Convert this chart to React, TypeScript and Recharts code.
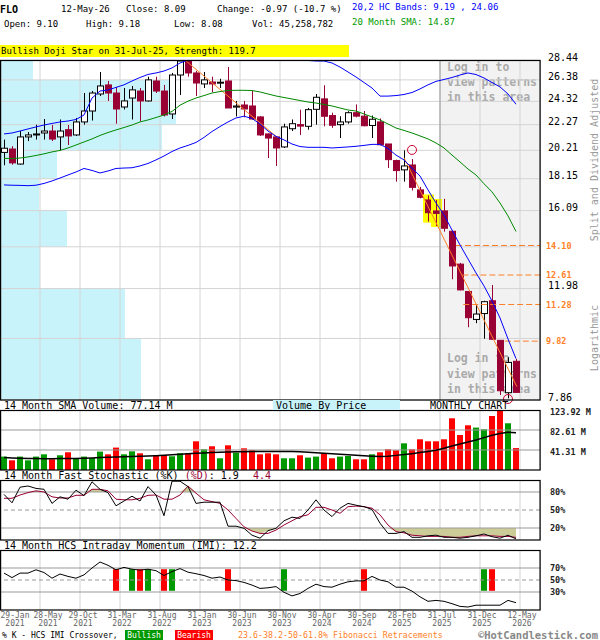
import React from "react";
import {
  ComposedChart,
  Bar,
  Line,
  Area,
  XAxis,
  YAxis,
  CartesianGrid,
  Cell,
  ReferenceArea,
  ReferenceLine,
  ReferenceDot,
} from "recharts";

const MONO = "'DejaVu Sans Mono', monospace";
const MAROON = "#990033";
const ORANGE = "#ff7f27";
const GRID = "#d4d4d4";

// FLO monthly candles, Jan-2021 .. May-2026 (split & dividend adjusted)
const opens = [
  20.05, 20.31, 19.19, 21.26, 21.45, 21.58, 21.74, 21.26, 21.85, 21.42,
  22.5, 23.45, 25.01, 25.88, 25.1, 23.81, 24.63, 25.29, 24.36, 26.27,
  25.29, 23.19, 26.87, 28.33, 27.08, 25.98, 26.17, 26.1, 26.27, 23.8,
  23.99, 23.9, 22.93, 21.5, 21.26, 20.47, 21.93, 22.27, 22.13, 23.6,
  24.55, 23.05, 22.27, 22.5, 23.3, 23.0, 22.2, 22.5, 20.7, 19.44,
  18.77, 19.12, 17.4, 16.75, 16.07, 16.07, 14.88, 13.14, 11.85, 10.66,
  10.9, 11.44, 9.85, 8.08, 9.1,
];
const highs = [
  21.05, 20.53, 21.74, 21.66, 22.27, 22.75, 22.24, 22.71, 22.24, 22.84,
  25.1, 25.29, 27.18, 26.27, 25.68, 25.58, 25.78, 25.58, 26.7, 26.7,
  25.88, 27.08, 28.44, 28.44, 27.29, 27.18, 26.7, 26.49, 27.7, 24.36,
  24.36, 25.29, 23.0, 21.55, 21.3, 22.35, 22.71, 23.57, 23.72, 25.01,
  25.85, 23.3, 22.99, 23.43, 24.04, 23.45, 23.05, 22.8, 20.7, 19.51,
  20.21, 19.55, 17.6, 17.04, 16.75, 16.82, 14.9, 13.2, 11.85, 11.3,
  11.44, 12.14, 9.85, 9.24, 9.18,
];
const lows = [
  19.1, 19.14, 19.14, 20.93, 21.05, 21.05, 20.93, 20.21, 20.62, 21.34,
  22.27, 22.62, 24.82, 24.36, 22.35, 23.59, 22.71, 22.55, 24.3, 25.1,
  22.97, 22.75, 24.91, 26.7, 24.82, 25.58, 25.2, 25.58, 23.72, 22.97,
  22.9, 22.71, 21.34, 19.63, 19.05, 20.39, 21.74, 21.42, 21.85, 22.27,
  22.13, 22.0, 21.17, 22.35, 22.9, 22.13, 21.17, 20.6, 18.9, 17.95,
  17.95, 17.36, 16.85, 15.43, 15.18, 14.86, 12.41, 11.9, 10.35, 10.51,
  9.91, 9.87, 8.01, 7.91, 8.08,
];
const closes = [
  20.37, 19.27, 21.26, 21.42, 21.5, 21.74, 21.09, 21.74, 21.34, 22.5,
  23.45, 25.1, 25.78, 25.1, 23.63, 24.36, 25.4, 24.36, 26.38, 25.29,
  23.1, 26.87, 28.33, 27.08, 26.07, 26.38, 25.98, 26.15, 23.72, 23.9,
  23.63, 22.75, 21.42, 21.17, 20.39, 22.08, 22.35, 22.15, 23.57, 24.7,
  22.99, 22.22, 22.5, 23.3, 23.0, 22.18, 22.73, 20.64, 19.51, 18.72,
  19.05, 17.57, 16.92, 15.96, 15.92, 15.05, 13.05, 11.92, 10.73, 10.88,
  11.4, 9.89, 8.14, 9.06, 8.09,
];

// 20,2 bands and 20 month SMA
const bandUpper = [
  21.5, 21.58, 21.74, 21.91, 22.08, 22.24, 22.37, 22.5, 22.58, 22.71,
  23.1, 24.63, 25.29, 25.39, 25.64, 25.89, 26.27, 26.62, 26.93, 27.08,
  27.28, 27.6, 28.12, 28.44, 28.66, 28.76, 28.66, 28.66, 28.6, 28.66,
  28.71, 28.71, 28.66, 28.6, 28.55, 28.49, 28.44, 28.44, 28.39, 28.33,
  28.33, 28.12, 27.69, 27.18, 26.67, 26.12, 25.58, 24.81, 24.81, 24.86,
  24.96, 25.15, 25.49, 25.89, 26.23, 26.42, 26.62, 26.87, 27.08, 26.92,
  26.57, 26.12, 25.69, 25.01, 24.06,
];
const bandLower = [
  17.73, 17.71, 17.7, 17.68, 17.71, 17.83, 18.0, 18.2, 18.41, 18.62,
  18.87, 18.73, 18.55, 18.69, 18.87, 18.9, 18.92, 19.05, 19.23, 19.49,
  19.78, 20.12, 20.39, 20.59, 20.82, 21.22, 21.7, 22.11, 22.5, 22.84,
  22.99, 22.8, 22.33, 21.74, 21.3, 21.02, 20.7, 20.5, 20.44, 20.44,
  20.44, 20.39, 20.43, 20.47, 20.52, 20.59, 20.67, 20.67, 20.35, 19.85,
  19.49, 18.9, 18.34, 17.4, 16.56, 15.83, 14.95, 14.13, 13.4, 12.71,
  12.1, 11.43, 10.72, 9.9, 9.19,
];
const sma20 = [
  19.6, 19.6, 19.63, 19.71, 19.82, 19.94, 20.09, 20.2, 20.39, 20.62,
  20.86, 21.1, 21.38, 21.62, 21.83, 22.03, 22.24, 22.5, 22.67, 22.88,
  23.1, 23.41, 23.97, 24.34, 24.63, 24.86, 25.1, 25.24, 25.34, 25.36,
  25.36, 25.34, 25.2, 25.01, 24.82, 24.68, 24.54, 24.4, 24.26, 24.17,
  24.03, 23.9, 23.72, 23.54, 23.45, 23.19, 22.93, 22.67, 22.33, 21.99,
  21.79, 21.58, 21.34, 21.1, 20.78, 20.39, 19.85, 19.34, 18.83, 18.41,
  17.81, 17.27, 16.56, 15.77, 14.87,
];

// monthly volume (millions) and its 14 month SMA
const volumes = [
  27.7, 20.0, 27.7, 20.0, 27.7, 32.4, 22.1, 30.4, 36.6, 24.8,
  27.7, 24.8, 38.0, 32.4, 46.3, 32.4, 38.6, 34.5, 22.1, 31.0,
  31.0, 28.3, 34.5, 34.5, 59.3, 42.8, 49.0, 24.2, 51.0, 35.9,
  44.8, 40.7, 32.4, 34.5, 32.4, 24.2, 24.2, 30.4, 25.6, 27.7,
  34.5, 24.2, 27.7, 28.9, 22.1, 22.1, 32.4, 36.6, 42.8, 40.7,
  55.1, 42.8, 63.4, 59.3, 59.3, 63.4, 106.8, 72.3, 92.3, 87.6,
  84.1, 111.5, 124.5, 96.5, 45.26,
];
const volumeSma = [
  25.6, 25.0, 24.4, 23.8, 23.5, 23.4, 23.4, 23.5, 23.6, 24.0,
  24.5, 25.0, 25.6, 26.2, 26.9, 27.3, 27.7, 28.3, 28.9, 29.6,
  30.4, 31.4, 32.5, 33.5, 34.5, 35.3, 36.0, 36.6, 37.2, 37.6,
  37.9, 38.0, 38.0, 38.1, 38.0, 38.0, 38.0, 37.6, 36.5, 35.5,
  34.5, 33.5, 32.4, 31.3, 30.4, 29.3, 28.4, 27.7, 28.6, 30.2,
  31.8, 33.8, 35.9, 38.2, 40.7, 45.0, 49.6, 53.5, 57.8, 62.0,
  66.9, 71.8, 75.5, 78.0, 77.14,
];

// 14 month fast stochastic
const stochK = [
  76, 62, 88, 90, 86, 84.5, 61, 72, 68, 83,
  74, 97, 84.5, 79, 57, 65, 73, 65, 89, 75,
  40.5, 98, 98, 89, 61, 63, 63, 63, 23, 23,
  19.5, 8, 3, 15.5, 19.5, 32, 38, 36, 50, 67,
  50, 39, 53, 61, 58, 55.5, 51, 28, 11, 11,
  14, 4.5, 4.5, 7, 8, 4.5, 4.5, 3, 4.5, 7,
  10, 5.5, 3, 8, 1.9,
];
const stochD = [
  69.5, 69.5, 75, 79, 82, 80, 72, 70, 70, 74.5,
  74.5, 84.5, 84.5, 82, 68, 67, 67, 69.5, 74.5, 75,
  68, 68, 75, 90, 78, 67, 64, 61, 50, 36,
  22, 15, 11, 11, 16.5, 25, 32, 39, 42, 54.5,
  54.5, 50, 44.5, 55.5, 56.5, 55.5, 53, 42, 25, 14,
  12, 8, 7, 6, 6, 6, 4.5, 4.5, 6, 7,
  7, 7, 6, 6, 4.4,
];

// 14 month HCS intraday momentum
const imi = [
  61.5, 54, 61.5, 61.5, 67, 62.5, 53, 60, 56, 53,
  58.5, 70, 80, 74.5, 67, 71, 68, 66.5, 68, 65.5,
  57.5, 64, 69, 63, 60.5, 57.5, 53, 55, 50, 49,
  46, 41.5, 36, 37, 39, 29.5, 23.5, 27.5, 36, 43,
  39, 38, 43, 47, 48.5, 48.5, 56, 50, 47, 38,
  38, 31.5, 22, 14.5, 16, 14.5, 10.5, 6, 5, 8,
  8, 8, 8, 16, 12.2,
];
const crossMonths = [14, 16, 17, 18, 20, 21, 28, 35, 45, 60, 61];
const crossKinds = ["bear", "bull", "bear", "bull", "bear", "bull", "bear", "bull", "bear", "bull", "bear"];

// pattern marks
const patternMonths = [53, 54];
const fibLevels = [14.1, 12.61, 11.28, 9.82];
const fibStartMonth = [56.5, 57.3, 57.4, 62.6];

// volume by price, per price band (grid line to grid line), bottom to top
const priceGrid = [7.86, 9.92, 11.98, 14.03, 16.09, 18.15, 20.21, 22.27, 24.32, 26.38, 28.44];
const priceLabels = [7.86, 11.98, 16.09, 18.15, 20.21, 22.27, 24.32, 26.38, 28.44];
const vbpVolume = [282, 250, 80, 134, 78, 114, 324, 352, 352, 66];

// x axis
const tickMonths = [0, 4, 9, 14, 19, 24, 29, 34, 39, 44, 49, 54, 59, 64];
const tickDates = ["29-Jan", "28-May", "29-Oct", "31-Mar", "31-Aug", "31-Jan", "30-Jun", "30-Nov", "30-Apr", "30-Sep", "28-Feb", "31-Jul", "31-Dec", "12-May"];
const tickYears = ["2021", "2021", "2021", "2022", "2022", "2023", "2023", "2023", "2024", "2024", "2025", "2025", "2025", "2026"];
const tickNudge = [15, 8, 3, 2, 2, 2, 2, 2, 2, 2, 2, 2, 2, 2];

const gridTicks = tickMonths.map((m) => (m === 0 ? -0.5 : m + 0.5));
const X_DOMAIN: [number, number] = [-0.5, 67];
const P_DOMAIN: [number, number] = [7.86, 28.44];

const priceRows = opens.map((o, i) => ({
  i,
  open: o,
  high: highs[i],
  low: lows[i],
  close: closes[i],
  range: [lows[i], highs[i]],
  upper: bandUpper[i],
  lower: bandLower[i],
  sma: sma20[i],
  flag: patternMonths.includes(i),
}));

const vbpRows = vbpVolume.map((v, k) => ({ v, lo: priceGrid[k], hi: priceGrid[k + 1] }));

const volumeRows = volumes.map((v, i) => ({
  i,
  vol: v,
  vsma: volumeSma[i],
  up: closes[i] >= opens[i],
}));

const stochRows = stochK.map((k, i) => {
  const d = stochD[i];
  return {
    i,
    k,
    d,
    hi: [80, Math.max(80, Math.min(k, d))],
    lo: [Math.min(20, Math.max(k, d)), 20],
  };
});

const imiRows = imi.map((v, i) => {
  const c = crossMonths.indexOf(i);
  return { i, imi: v, cross: c >= 0 ? [32, 68] : null, kind: c >= 0 ? crossKinds[c] : null };
});

const Candle = (props: any) => {
  const { x, y, width, height, payload } = props;
  if (x == null || y == null || !payload) return null;
  const top = Math.min(y, y + height);
  const bot = Math.max(y, y + height);
  const lh = Math.log(payload.high);
  const ll = Math.log(payload.low);
  const py = (p: number) => (lh === ll ? top : top + ((lh - Math.log(p)) / (lh - ll)) * (bot - top));
  const up = payload.close >= payload.open;
  const color = up ? "#000" : MAROON;
  const cx = Math.round(x + width / 2) + 0.5;
  const bTop = py(Math.max(payload.open, payload.close));
  const bBot = py(Math.min(payload.open, payload.close));
  const bh = Math.max(1, bBot - bTop);
  return (
    <g>
      {payload.flag && (
        <rect x={cx - 5.5} y={top - 1} width={11} height={bot - top + 2} fill="#ffff00" />
      )}
      <line x1={cx} x2={cx} y1={top} y2={bot} stroke={color} strokeWidth={1} />
      <rect x={cx - 3} y={bTop} width={6} height={bh} fill={up ? "#fff" : color} stroke={color} strokeWidth={1} />
    </g>
  );
};

const PriceTick = (props: any) => {
  const { x, y, payload } = props;
  if (!priceLabels.includes(payload.value)) return <g />;
  return (
    <text x={x} y={y - 3} dominantBaseline="central" fontSize={10} fontFamily={MONO} fill="#000">
      {payload.value.toFixed(2)}
    </text>
  );
};

const makeSideTick = (fmt: (v: number) => string, dy: number) => (props: any) => {
  const { x, y, payload } = props;
  return (
    <text x={x + 2} y={y + dy} dominantBaseline="central" fontSize={8.5} fontWeight="bold" fontFamily={MONO} fill="#222">
      {fmt(payload.value)}
    </text>
  );
};

const DateTick = (props: any) => {
  const { x, y, payload } = props;
  const k = gridTicks.indexOf(payload.value);
  if (k < 0) return <g />;
  const tx = x + tickNudge[k];
  return (
    <g fontSize={8} fontFamily={MONO} fill="#666" textAnchor="middle">
      <text x={tx} y={y - 3} dominantBaseline="central">{tickDates[k]}</text>
      <text x={tx} y={y + 5.5} dominantBaseline="central">{tickYears[k]}</text>
    </g>
  );
};

const timeAxis = (
  <XAxis type="number" dataKey="i" domain={X_DOMAIN} ticks={gridTicks} allowDataOverflow hide />
);

const layer = (top: number, z: number): React.CSSProperties => ({ position: "absolute", left: 0, top, zIndex: z });
const M_MAIN = { top: 60, right: 0, bottom: 10, left: 0 };
const M_PANEL = { top: 10, right: 0, bottom: 10, left: 0 };

export default function App() {
  return (
    <div style={{ position: "absolute", left: 0, top: 0, width: 600, height: 640, background: "#fff", overflow: "hidden" }}>
      {/* volume by price (behind the candles) */}
      <div style={layer(0, 1)}>
        <ComposedChart width={600} height={410} data={vbpRows} margin={M_MAIN}>
          <XAxis type="number" dataKey="v" domain={[0, 1080]} allowDataOverflow hide />
          <YAxis orientation="right" width={60} scale="log" type="number" domain={P_DOMAIN} allowDataOverflow tick={false} axisLine={false} tickLine={false} />
          {vbpRows.map((r, k) => (
            <ReferenceArea key={k} x1={0} x2={r.v} y1={r.lo} y2={r.hi} fill="#c9f3fb" fillOpacity={1} stroke="none" />
          ))}
        </ComposedChart>
      </div>

      {/* zone where the site hides recent patterns */}
      <div style={layer(0, 2)}>
        <ComposedChart width={600} height={410} data={priceRows} margin={M_MAIN}>
          {timeAxis}
          <YAxis orientation="right" width={60} scale="log" type="number" domain={P_DOMAIN} allowDataOverflow tick={false} axisLine={false} tickLine={false} />
          <ReferenceArea x1={54.5} x2={67} y1={P_DOMAIN[0]} y2={P_DOMAIN[1]} fill="#f2f2f2" fillOpacity={1} stroke="none" />
        </ComposedChart>
      </div>

      <svg width={600} height={410} style={{ ...layer(0, 3), pointerEvents: "none" }}>
        {["Log in to", "view patterns", "in this area"].map((t, k) => (
          <text key={"a" + k} x={447} y={67 + 15 * k} dominantBaseline="central" fontSize={11.5} fontWeight="bold" fontFamily={MONO} fill="#aaaaaa">{t}</text>
        ))}
        {["Log in to", "view patterns", "in this area"].map((t, k) => (
          <text key={"b" + k} x={447} y={358 + 15.5 * k} dominantBaseline="central" fontSize={11.5} fontWeight="bold" fontFamily={MONO} fill="#aaaaaa">{t}</text>
        ))}
      </svg>

      {/* main price panel */}
      <div style={layer(0, 4)}>
        <ComposedChart width={600} height={410} data={priceRows} margin={M_MAIN}>
          <CartesianGrid stroke={GRID} />
          {timeAxis}
          <YAxis
            orientation="right"
            width={60}
            scale="log"
            type="number"
            domain={P_DOMAIN}
            allowDataOverflow
            ticks={priceGrid}
            interval={0}
            tick={<PriceTick />}
            axisLine={false}
            tickLine={false}
          />
          <ReferenceLine x={54.5} stroke="#999" />
          {fibLevels.map((lv, k) => (
            <ReferenceLine
              key={lv}
              segment={[{ x: fibStartMonth[k], y: lv }, { x: 67, y: lv }]}
              stroke={ORANGE}
              strokeDasharray="6 3"
              ifOverflow="visible"
              label={{ value: lv.toFixed(2), position: "right", offset: 6, fill: ORANGE, fontSize: 8.5, fontWeight: "bold", fontFamily: MONO }}
            />
          ))}
          <ReferenceLine segment={[{ x: 22.8, y: 28.3 }, { x: 34.25, y: 21.18 }]} stroke={ORANGE} ifOverflow="visible" />
          <ReferenceLine segment={[{ x: 50, y: 19.65 }, { x: 64.1, y: 8.27 }]} stroke={ORANGE} ifOverflow="visible" />
          <Line dataKey="upper" stroke="#0000ff" strokeWidth={1} dot={false} isAnimationActive={false} />
          <Line dataKey="lower" stroke="#0000ff" strokeWidth={1} dot={false} isAnimationActive={false} />
          <Line dataKey="sma" stroke="#008800" strokeWidth={1} dot={false} isAnimationActive={false} />
          <Bar dataKey="range" barSize={6} shape={Candle} isAnimationActive={false} />
          <ReferenceDot x={51} y={20.24} r={4.5} fill="none" stroke="#cc0033" ifOverflow="visible" />
          <ReferenceDot x={63} y={7.89} r={4.5} fill="none" stroke="#cc0033" ifOverflow="visible" />
        </ComposedChart>
      </div>

      {/* volume panel */}
      <div style={layer(400, 4)}>
        <ComposedChart width={600} height={80} data={volumeRows} margin={M_PANEL}>
          <CartesianGrid stroke={GRID} horizontal={false} />
          {timeAxis}
          <YAxis
            orientation="right"
            width={60}
            type="number"
            domain={[0, 123.92]}
            allowDataOverflow
            ticks={[41.31, 82.61, 123.92]}
            interval={0}
            tick={makeSideTick((v) => v.toFixed(2) + " M", 2)}
            axisLine={false}
            tickLine={false}
          />
          <ReferenceLine y={41.31} stroke="#999" />
          <ReferenceLine y={82.61} stroke="#999" />
          <Bar dataKey="vol" barSize={6} isAnimationActive={false}>
            {volumeRows.map((r) => (
              <Cell key={r.i} fill={r.up ? "#009900" : "#ff0000"} />
            ))}
          </Bar>
          <Line dataKey="vsma" stroke="#000" strokeWidth={1.5} dot={false} isAnimationActive={false} />
        </ComposedChart>
      </div>

      {/* stochastic panel */}
      <div style={layer(470, 4)}>
        <ComposedChart width={600} height={80} data={stochRows} margin={M_PANEL}>
          <CartesianGrid stroke={GRID} horizontal={false} />
          {timeAxis}
          <YAxis
            orientation="right"
            width={60}
            type="number"
            domain={[0, 100]}
            allowDataOverflow
            ticks={[20, 50, 80]}
            interval={0}
            tick={makeSideTick((v) => v + "%", 0)}
            axisLine={false}
            tickLine={false}
          />
          <ReferenceLine y={80} stroke="#999" />
          <ReferenceLine y={20} stroke="#999" />
          <ReferenceLine y={50} stroke="#999" strokeDasharray="4 3" />
          <Area dataKey="hi" stroke="none" fill="#cccc99" fillOpacity={1} isAnimationActive={false} />
          <Area dataKey="lo" stroke="none" fill="#cccc99" fillOpacity={1} isAnimationActive={false} />
          <Line dataKey="d" stroke={MAROON} strokeWidth={1} dot={false} isAnimationActive={false} />
          <Line dataKey="k" stroke="#000" strokeWidth={1} dot={false} isAnimationActive={false} />
        </ComposedChart>
      </div>

      {/* IMI panel with the date axis */}
      <div style={layer(540, 4)}>
        <ComposedChart width={600} height={96} data={imiRows} margin={{ top: 10, right: 0, bottom: 0, left: 0 }}>
          <CartesianGrid stroke={GRID} horizontal={false} />
          <XAxis
            type="number"
            dataKey="i"
            domain={X_DOMAIN}
            ticks={gridTicks}
            allowDataOverflow
            interval={0}
            height={26}
            axisLine={false}
            tickLine={false}
            tick={<DateTick />}
          />
          <YAxis
            orientation="right"
            width={60}
            type="number"
            domain={[0, 100]}
            allowDataOverflow
            ticks={[30, 50, 70]}
            interval={0}
            tick={makeSideTick((v) => v + "%", 0)}
            axisLine={false}
            tickLine={false}
          />
          <ReferenceLine y={70} stroke="#999" />
          <ReferenceLine y={30} stroke="#999" />
          <ReferenceLine y={50} stroke="#999" strokeDasharray="4 3" />
          <Bar dataKey="cross" barSize={6} isAnimationActive={false}>
            {imiRows.map((r) => (
              <Cell key={r.i} fill={r.kind === "bull" ? "#009900" : "#ff0000"} />
            ))}
          </Bar>
          <Line dataKey="imi" stroke="#000" strokeWidth={1} dot={false} isAnimationActive={false} />
        </ComposedChart>
      </div>

      {/* titles, frames and footer */}
      <svg width={600} height={640} style={{ ...layer(0, 10), pointerEvents: "none" }} fontFamily={MONO}>
        <g fontSize={9} dominantBaseline="central" fill="#000">
          <text x={0} y={9} fontWeight="bold" fontSize={10}>FLO</text>
          <text x={61} y={9}>12-May-26</text>
          <text x={126} y={9}>Close: 8.09</text>
          <text x={217} y={9}>Change: -0.97 (-10.7 %)</text>
          <text x={352} y={7} fill="#0000ff">20,2 HC Bands: 9.19 , 24.06</text>
          <text x={4} y={24}>Open: 9.10</text>
          <text x={86} y={24}>High: 9.18</text>
          <text x={174} y={24}>Low: 8.08</text>
          <text x={252} y={24}>Vol: 45,258,782</text>
          <text x={352} y={22} fill="#009900">20 Month SMA: 14.87</text>
          <rect x={0} y={45} width={349} height={12} fill="#ffff00" />
          <text x={1} y={51}>Bullish Doji Star on 31-Jul-25, Strength: 119.7</text>
        </g>

        <text x={594} y={160} fontSize={10} fill="#999" textAnchor="middle" dominantBaseline="central" transform="rotate(-90 594 160)">
          Split and Dividend Adjusted
        </text>
        <text x={594} y={338} fontSize={10} fill="#999" textAnchor="middle" dominantBaseline="central" transform="rotate(-90 594 338)">
          Logarithmic
        </text>

        <g fill="none" stroke="#000" strokeWidth={1.2}>
          <rect x={0.6} y={60.5} width={539.5} height={339.5} />
          <rect x={0.6} y={410.5} width={539.5} height={59.5} />
          <rect x={0.6} y={480.5} width={539.5} height={59.5} />
          <rect x={0.6} y={550.5} width={539.5} height={59.5} />
        </g>

        <g fontSize={10} dominantBaseline="central" fill="#000">
          <text x={4} y={405}>14 Month SMA Volume: 77.14 M</text>
          <rect x={273} y={400} width={127} height={10} fill="#c9f3fb" />
          <text x={276} y={405}>Volume By Price</text>
          <text x={430} y={405}>MONTHLY CHART</text>
          <text x={4} y={475}>
            14 Month Fast Stochastic (%K) <tspan fill={MAROON}>(%D)</tspan>: 1.9
          </text>
          <text x={253} y={475} fill={MAROON}>4.4</text>
          <text x={4} y={545}>14 Month HCS Intraday Momentum (IMI): 12.2</text>
        </g>

        <g fontSize={8} dominantBaseline="central">
          <text x={2} y={635} fill="#000">% K - HCS IMI Crossover,</text>
          <rect x={125} y={630} width={38} height={10} fill="#009900" />
          <text x={144} y={635} fill="#fff" textAnchor="middle">Bullish</text>
          <rect x={175} y={630} width={38} height={10} fill="#ff0000" />
          <text x={194} y={635} fill="#fff" textAnchor="middle">Bearish</text>
          <text x={238} y={635} fill={ORANGE} fontSize={8.3}>23.6-38.2-50-61.8% Fibonacci Retracements</text>
          <text x={598} y={635} fill="#888" fontSize={10.5} fontWeight="bold" textAnchor="end">©HotCandlestick.com</text>
        </g>
      </svg>
    </div>
  );
}
